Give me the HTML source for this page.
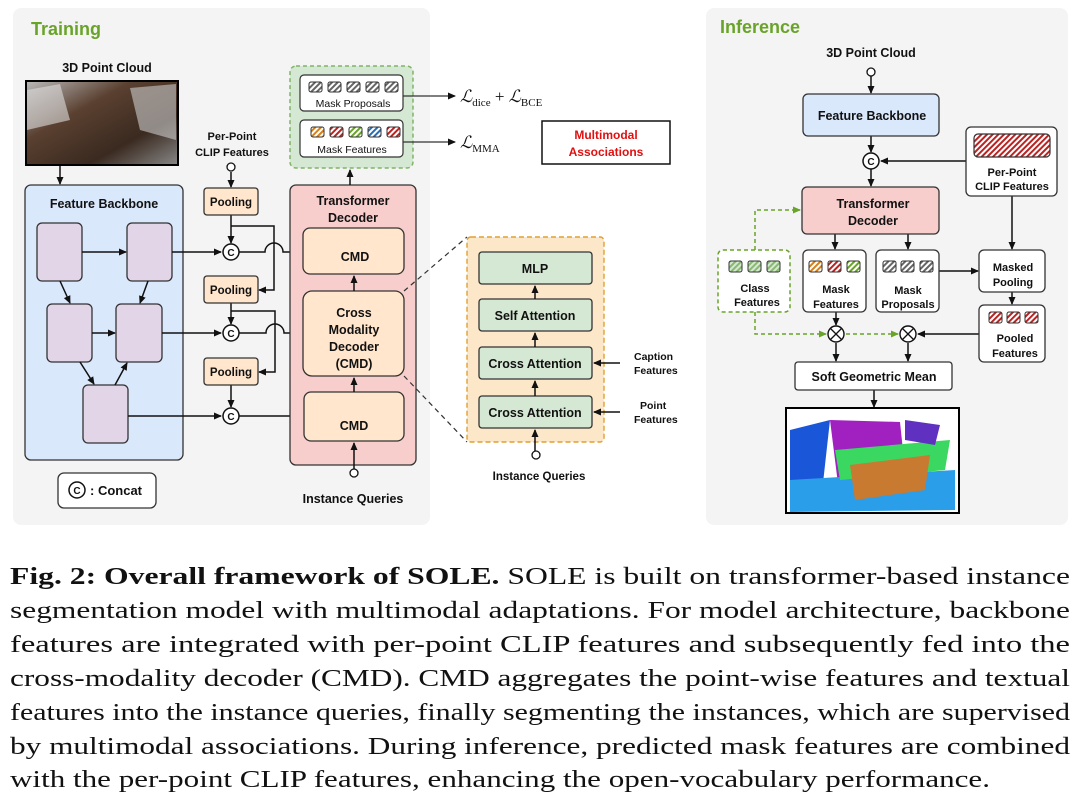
<!DOCTYPE html>
<html><head><meta charset="utf-8"><style>
body{margin:0;width:1078px;height:797px;background:#fff;overflow:hidden;position:relative;font-family:"Liberation Sans",sans-serif}
svg text{font-family:"Liberation Sans",sans-serif;font-weight:bold;fill:#111}
.cap{position:absolute;left:10px;font-family:"Liberation Serif",serif;font-size:24px;color:#111;white-space:nowrap;line-height:30px;transform-origin:0 0;display:inline-block}
</style></head><body>
<svg width="1078" height="540" style="position:absolute;left:0;top:0">
<defs>
<marker id="a" markerWidth="8" markerHeight="8" refX="7" refY="4" orient="auto" markerUnits="userSpaceOnUse"><path d="M0,0.5 L8,4 L0,7.5z" fill="#111"/></marker>
<marker id="g" markerWidth="8" markerHeight="8" refX="7" refY="4" orient="auto" markerUnits="userSpaceOnUse"><path d="M0,0.5 L8,4 L0,7.5z" fill="#6aa329"/></marker>
<pattern id="hg" width="4" height="4" patternUnits="userSpaceOnUse" patternTransform="rotate(45)"><rect width="4" height="4" fill="#fff"/><rect width="2" height="4" fill="#666"/></pattern>
<pattern id="hr" width="4" height="4" patternUnits="userSpaceOnUse" patternTransform="rotate(45)"><rect width="4" height="4" fill="#fff"/><rect width="2" height="4" fill="#b22"/></pattern>
<pattern id="ho" width="4" height="4" patternUnits="userSpaceOnUse" patternTransform="rotate(45)"><rect width="4" height="4" fill="#fff"/><rect width="2" height="4" fill="#d7801a"/></pattern>
<pattern id="hgr" width="4" height="4" patternUnits="userSpaceOnUse" patternTransform="rotate(45)"><rect width="4" height="4" fill="#fff"/><rect width="2" height="4" fill="#6aa329"/></pattern>
<pattern id="hb" width="4" height="4" patternUnits="userSpaceOnUse" patternTransform="rotate(45)"><rect width="4" height="4" fill="#fff"/><rect width="2" height="4" fill="#2a6fb5"/></pattern>
<pattern id="hlg" width="4" height="4" patternUnits="userSpaceOnUse" patternTransform="rotate(45)"><rect width="4" height="4" fill="#d5e8d4"/><rect width="2" height="4" fill="#8ab870"/></pattern>
<linearGradient id="pc" x1="0" y1="0" x2="1" y2="1"><stop offset="0" stop-color="#bbb"/><stop offset=".35" stop-color="#5a4030"/><stop offset=".7" stop-color="#3a2a20"/><stop offset="1" stop-color="#888"/></linearGradient>
</defs>
<rect x="13" y="8" width="417" height="517" rx="8" fill="#f4f4f4"/>
<text x="31" y="35" font-size="18" style="fill:#6aa329">Training</text>
<text x="107" y="72" font-size="12.5" text-anchor="middle">3D Point Cloud</text>
<rect x="26" y="81" width="152" height="84" fill="url(#pc)" stroke="#000" stroke-width="2"/>
<polygon points="27,90 60,84 70,120 27,130" fill="#ddd" opacity=".6"/>
<polygon points="130,88 176,84 176,140 140,130" fill="#ccc" opacity=".6"/>
<line x1="60" y1="166" x2="60" y2="184" stroke="#111" stroke-width="1.5" marker-end="url(#a)"/>
<rect x="25" y="185" width="158" height="275" rx="6" fill="#dae8fc" stroke="#333" stroke-width="1.3"/>
<text x="104" y="208" font-size="12.5" text-anchor="middle">Feature Backbone</text>
<g fill="#e1d5e7" stroke="#333" stroke-width="1.3">
<rect x="37" y="223" width="45" height="58" rx="5"/><rect x="127" y="223" width="45" height="58" rx="5"/>
<rect x="47" y="304" width="45" height="58" rx="5"/><rect x="116" y="304" width="46" height="58" rx="5"/>
<rect x="83" y="385" width="45" height="58" rx="5"/></g>
<g stroke="#111" stroke-width="1.5" fill="none" marker-end="url(#a)">
<line x1="82" y1="252" x2="126" y2="252"/><line x1="60" y1="281" x2="70" y2="303"/><line x1="148" y1="281" x2="140" y2="303"/>
<line x1="92" y1="333" x2="115" y2="333"/><line x1="80" y1="362" x2="94" y2="384"/><line x1="115" y1="385" x2="127" y2="363"/>
<line x1="172" y1="252" x2="221" y2="252"/><line x1="162" y1="333" x2="221" y2="333"/><line x1="128" y1="416" x2="221" y2="416"/>
<line x1="231" y1="172" x2="231" y2="187"/>
<line x1="231" y1="215" x2="231" y2="243"/><line x1="231" y1="303" x2="231" y2="324"/><line x1="231" y1="385" x2="231" y2="407"/>
<path d="M231,226 H274 V290 H259"/><path d="M231,311 H275 V372 H259"/>
<path d="M239,252 H265 A5,5 0 0 1 283,252 H302"/><path d="M239,333 H266 A5,5 0 0 1 284,333 H302"/>
<line x1="239" y1="416" x2="302" y2="416"/>
</g>
<circle cx="231" cy="167" r="4" fill="#fff" stroke="#111" stroke-width="1.3"/>
<text x="232" y="140" font-size="11" text-anchor="middle">Per-Point</text>
<text x="232" y="156" font-size="11" text-anchor="middle">CLIP Features</text>
<g fill="#ffe6cc" stroke="#333" stroke-width="1.3">
<rect x="204" y="188" width="54" height="27" rx="3"/><rect x="204" y="276" width="54" height="27" rx="3"/><rect x="204" y="358" width="54" height="27" rx="3"/></g>
<g font-size="11.5" text-anchor="middle"><text x="231" y="206">Pooling</text><text x="231" y="294">Pooling</text><text x="231" y="376">Pooling</text></g>
<g fill="#fff" stroke="#111" stroke-width="1.5"><circle cx="231" cy="252" r="8"/><circle cx="231" cy="333" r="8"/><circle cx="231" cy="416" r="8"/></g>
<g font-size="10" text-anchor="middle"><text x="231" y="256">C</text><text x="231" y="337">C</text><text x="231" y="420">C</text></g>
<rect x="58" y="473" width="98" height="35" rx="6" fill="#fff" stroke="#333" stroke-width="1.3"/>
<circle cx="77" cy="490" r="8" fill="#fff" stroke="#111" stroke-width="1.5"/><text x="77" y="494" font-size="10" text-anchor="middle">C</text>
<text x="90" y="495" font-size="13">: Concat</text>
<rect x="290" y="185" width="126" height="280" rx="6" fill="#f8cecc" stroke="#333" stroke-width="1.3"/>
<text x="353" y="205" font-size="12.5" text-anchor="middle">Transformer</text>
<text x="353" y="222" font-size="12.5" text-anchor="middle">Decoder</text>
<g fill="#ffe6cc" stroke="#333" stroke-width="1.3">
<rect x="303" y="228" width="101" height="46" rx="7"/><rect x="303" y="291" width="101" height="85" rx="9"/><rect x="304" y="392" width="100" height="49" rx="7"/></g>
<g font-size="12.5" text-anchor="middle"><text x="355" y="261">CMD</text><text x="354" y="430">CMD</text>
<text x="354" y="317">Cross</text><text x="354" y="334">Modality</text><text x="354" y="351">Decoder</text><text x="354" y="368">(CMD)</text></g>
<g stroke="#111" stroke-width="1.5" marker-end="url(#a)"><line x1="354" y1="291" x2="354" y2="276"/><line x1="354" y1="392" x2="354" y2="378"/><line x1="354" y1="469" x2="354" y2="443"/><line x1="350" y1="185" x2="350" y2="170"/></g>
<circle cx="354" cy="473" r="4" fill="#fff" stroke="#111" stroke-width="1.3"/>
<text x="353" y="503" font-size="12.5" text-anchor="middle">Instance Queries</text>
<rect x="290" y="66" width="123" height="102" rx="6" fill="#d5e8d4" stroke="#82b366" stroke-width="1.5" stroke-dasharray="4,3"/>
<rect x="300" y="75" width="103" height="36" rx="4" fill="#fff" stroke="#333" stroke-width="1.2"/>
<rect x="300" y="120" width="103" height="37" rx="4" fill="#fff" stroke="#333" stroke-width="1.2"/>
<g stroke="#333" stroke-width="1"><rect x="309" y="82" width="13" height="10" rx="2" fill="url(#hg)"/><rect x="328" y="82" width="13" height="10" rx="2" fill="url(#hg)"/><rect x="347" y="82" width="13" height="10" rx="2" fill="url(#hg)"/><rect x="366" y="82" width="13" height="10" rx="2" fill="url(#hg)"/><rect x="385" y="82" width="13" height="10" rx="2" fill="url(#hg)"/>
<rect x="311" y="127" width="13" height="10" rx="2" fill="url(#ho)"/><rect x="330" y="127" width="13" height="10" rx="2" fill="url(#hr)"/><rect x="349" y="127" width="13" height="10" rx="2" fill="url(#hgr)"/><rect x="368" y="127" width="13" height="10" rx="2" fill="url(#hb)"/><rect x="387" y="127" width="13" height="10" rx="2" fill="url(#hr)"/></g>
<text x="353" y="107" font-size="10.5" text-anchor="middle" style="font-weight:normal">Mask Proposals</text>
<text x="352" y="153" font-size="10.5" text-anchor="middle" style="font-weight:normal">Mask Features</text>
<g stroke="#333" stroke-width="1.3" marker-end="url(#a)"><line x1="403" y1="96" x2="455" y2="96"/><line x1="403" y1="142" x2="455" y2="142"/></g>
<text x="460" y="102" style="font-family:'Liberation Serif',serif;font-weight:normal;font-style:italic" font-size="17">ℒ<tspan font-size="11" dy="4" style="font-style:normal">dice</tspan><tspan dy="-4" style="font-style:normal"> + </tspan>ℒ<tspan font-size="11" dy="4" style="font-style:normal">BCE</tspan></text>
<text x="460" y="148" style="font-family:'Liberation Serif',serif;font-weight:normal;font-style:italic" font-size="17">ℒ<tspan font-size="11" dy="4" style="font-style:normal">MMA</tspan></text>
<rect x="542" y="121" width="128" height="43" fill="#fff" stroke="#111" stroke-width="1.5"/>
<text x="606" y="139" font-size="12" text-anchor="middle" style="fill:#e01010">Multimodal</text>
<text x="606" y="156" font-size="12" text-anchor="middle" style="fill:#e01010">Associations</text>
<g stroke="#333" stroke-width="1.2" stroke-dasharray="5,4"><line x1="404" y1="291" x2="467" y2="237"/><line x1="404" y1="376" x2="467" y2="442"/></g>
<rect x="467" y="237" width="137" height="205" rx="4" fill="#fde7c9" stroke="#e0a030" stroke-width="1.4" stroke-dasharray="5,3"/>
<g fill="#d5e8d4" stroke="#333" stroke-width="1.3">
<rect x="479" y="252" width="113" height="32" rx="3"/><rect x="479" y="299" width="113" height="32" rx="3"/><rect x="479" y="347" width="113" height="32" rx="3"/><rect x="479" y="396" width="113" height="32" rx="3"/></g>
<g font-size="12.5" text-anchor="middle"><text x="535" y="273">MLP</text><text x="535" y="320">Self Attention</text><text x="535" y="368">Cross Attention</text><text x="535" y="417">Cross Attention</text></g>
<g stroke="#111" stroke-width="1.5" marker-end="url(#a)"><line x1="535" y1="299" x2="535" y2="286"/><line x1="535" y1="347" x2="535" y2="333"/><line x1="535" y1="396" x2="535" y2="381"/><line x1="535" y1="451" x2="535" y2="430"/>
<line x1="620" y1="363" x2="594" y2="363"/><line x1="620" y1="412" x2="594" y2="412"/></g>
<circle cx="536" cy="455" r="4" fill="#fff" stroke="#111" stroke-width="1.3"/>
<text x="539" y="480" font-size="11.5" text-anchor="middle">Instance Queries</text>
<g font-size="10.5"><text x="634" y="360">Caption</text><text x="634" y="374">Features</text><text x="640" y="409">Point</text><text x="634" y="423">Features</text></g>
<rect x="706" y="8" width="362" height="517" rx="8" fill="#f4f4f4"/>
<text x="720" y="33" font-size="18" style="fill:#6aa329">Inference</text>
<text x="871" y="57" font-size="12.5" text-anchor="middle">3D Point Cloud</text>
<circle cx="871" cy="72" r="4" fill="#fff" stroke="#111" stroke-width="1.3"/>
<g stroke="#111" stroke-width="1.5" marker-end="url(#a)">
<line x1="871" y1="76" x2="871" y2="93"/><line x1="871" y1="136" x2="871" y2="152"/><line x1="871" y1="169" x2="871" y2="186"/>
<line x1="966" y1="161" x2="881" y2="161"/><line x1="1012" y1="196" x2="1012" y2="249"/>
<line x1="835" y1="234" x2="835" y2="249"/><line x1="908" y1="234" x2="908" y2="249"/>
<line x1="939" y1="271" x2="978" y2="271"/><line x1="1012" y1="292" x2="1012" y2="304"/>
<line x1="836" y1="312" x2="836" y2="325"/><line x1="979" y1="334" x2="918" y2="334"/>
<line x1="836" y1="343" x2="836" y2="361"/><line x1="908" y1="343" x2="908" y2="361"/><line x1="874" y1="390" x2="874" y2="407"/></g>
<rect x="803" y="94" width="136" height="42" rx="5" fill="#dae8fc" stroke="#333" stroke-width="1.3"/>
<text x="872" y="120" font-size="12.5" text-anchor="middle">Feature Backbone</text>
<circle cx="871" cy="161" r="8" fill="#fff" stroke="#111" stroke-width="1.5"/><text x="871" y="165" font-size="10" text-anchor="middle">C</text>
<rect x="966" y="127" width="91" height="69" rx="5" fill="#fff" stroke="#333" stroke-width="1.3"/>
<rect x="974" y="134" width="76" height="23" rx="4" fill="url(#hr)" stroke="#333" stroke-width="1.2"/>
<text x="1012" y="176" font-size="11" text-anchor="middle">Per-Point</text><text x="1012" y="190" font-size="11" text-anchor="middle">CLIP Features</text>
<rect x="802" y="187" width="137" height="47" rx="5" fill="#f8cecc" stroke="#333" stroke-width="1.3"/>
<text x="873" y="208" font-size="12.5" text-anchor="middle">Transformer</text><text x="873" y="225" font-size="12.5" text-anchor="middle">Decoder</text>
<rect x="718" y="250" width="72" height="62" rx="5" fill="#fff" stroke="#6aa329" stroke-width="1.5" stroke-dasharray="4,3"/>
<path d="M755,250 V210 H800" fill="none" stroke="#6aa329" stroke-width="1.5" stroke-dasharray="4,3" marker-end="url(#g)"/>
<path d="M755,312 V334 H826" fill="none" stroke="#6aa329" stroke-width="1.5" stroke-dasharray="4,3" marker-end="url(#g)"/>
<line x1="846" y1="334" x2="898" y2="334" stroke="#6aa329" stroke-width="1.5" stroke-dasharray="4,3" marker-end="url(#g)"/>
<g fill="#fff" stroke="#333" stroke-width="1.3">
<rect x="803" y="250" width="63" height="62" rx="5"/><rect x="876" y="250" width="63" height="62" rx="5"/>
<rect x="979" y="250" width="66" height="42" rx="5"/><rect x="979" y="305" width="66" height="57" rx="5"/>
<rect x="795" y="362" width="157" height="28" rx="3"/></g>
<g stroke="#333" stroke-width="1">
<rect x="729" y="261" width="13" height="11" rx="2" fill="url(#hlg)"/><rect x="748" y="261" width="13" height="11" rx="2" fill="url(#hlg)"/><rect x="767" y="261" width="13" height="11" rx="2" fill="url(#hlg)"/>
<rect x="809" y="261" width="13" height="11" rx="2" fill="url(#ho)"/><rect x="828" y="261" width="13" height="11" rx="2" fill="url(#hr)"/><rect x="847" y="261" width="13" height="11" rx="2" fill="url(#hgr)"/>
<rect x="883" y="261" width="13" height="11" rx="2" fill="url(#hg)"/><rect x="901" y="261" width="13" height="11" rx="2" fill="url(#hg)"/><rect x="920" y="261" width="13" height="11" rx="2" fill="url(#hg)"/>
<rect x="989" y="312" width="13" height="11" rx="2" fill="url(#hr)"/><rect x="1007" y="312" width="13" height="11" rx="2" fill="url(#hr)"/><rect x="1025" y="312" width="13" height="11" rx="2" fill="url(#hr)"/></g>
<g font-size="11" text-anchor="middle">
<text x="755" y="292">Class</text><text x="757" y="306">Features</text>
<text x="836" y="293">Mask</text><text x="836" y="308">Features</text>
<text x="908" y="294">Mask</text><text x="908" y="308">Proposals</text>
<text x="1013" y="271">Masked</text><text x="1013" y="286">Pooling</text>
<text x="1015" y="342">Pooled</text><text x="1015" y="357">Features</text></g>
<text x="874" y="381" font-size="12.5" text-anchor="middle">Soft Geometric Mean</text>
<g fill="#fff" stroke="#111" stroke-width="1.4"><circle cx="836" cy="334" r="8"/><circle cx="908" cy="334" r="8"/></g>
<g stroke="#111" stroke-width="1.3"><path d="M830,328 L842,340 M842,328 L830,340"/><path d="M902,328 L914,340 M914,328 L902,340"/></g>
<rect x="786" y="408" width="173" height="105" fill="#fff" stroke="#000" stroke-width="2"/>
<polygon points="790,430 830,420 820,510 790,510" fill="#1a56d8"/>
<polygon points="830,420 900,422 905,470 840,500" fill="#a020c0"/>
<polygon points="790,480 955,470 955,510 790,512" fill="#2a9ee8"/>
<polygon points="835,450 950,440 945,470 840,480" fill="#3ad860"/>
<polygon points="850,465 930,455 925,490 855,500" fill="#c87a30"/>
<polygon points="905,420 940,425 935,445 905,440" fill="#6030c0"/>
</svg>
<span class="cap" data-w="1060" style="top:562px"><b>Fig. 2: Overall framework of SOLE.</b> SOLE is built on transformer-based instance</span>
<span class="cap" data-w="1060" style="top:596px">segmentation model with multimodal adaptations. For model architecture, backbone</span>
<span class="cap" data-w="1060" style="top:630px">features are integrated with per-point CLIP features and subsequently fed into the</span>
<span class="cap" data-w="1060" style="top:664px">cross-modality decoder (CMD). CMD aggregates the point-wise features and textual</span>
<span class="cap" data-w="1060" style="top:698px">features into the instance queries, finally segmenting the instances, which are supervised</span>
<span class="cap" data-w="1060" style="top:732px">by multimodal associations. During inference, predicted mask features are combined</span>
<span class="cap" data-w="980" style="top:765px">with the per-point CLIP features, enhancing the open-vocabulary performance.</span>
<script>
document.querySelectorAll('.cap').forEach(function(e){var w=e.getBoundingClientRect().width;var t=+e.getAttribute('data-w');if(w>0)e.style.transform='scaleX('+(t/w)+')';});
</script>
</body></html>
